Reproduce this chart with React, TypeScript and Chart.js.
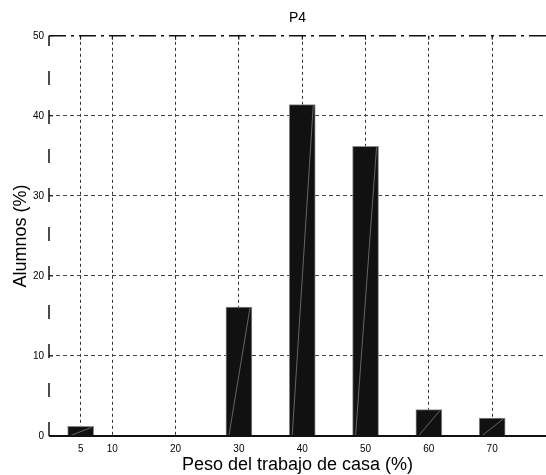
import React, { useEffect, useRef } from "react";
import { Chart, registerables } from "chart.js";

Chart.register(...registerables);

const CATEGORIES = [5, 10, 20, 30, 40, 50, 60, 70];
const VALUES = [1.2, 0, 0, 16.1, 41.4, 36.2, 3.3, 2.25];
const Y_TICKS = [0, 10, 20, 30, 40, 50];
const TITLE = "P4";
const X_TITLE = "Peso del trabajo de casa (%)";
const Y_TITLE = "Alumnos (%)";

const FONT = "'Liberation Sans', Arial, Helvetica, sans-serif";

const axesPlugin = {
  id: "matlabAxes",
  afterDatasetsDraw(chart: any) {
    const { ctx, chartArea } = chart;
    const { left, right, top, bottom } = chartArea;
    const meta = chart.getDatasetMeta(0);
    ctx.save();
    ctx.strokeStyle = "rgba(150,150,150,0.8)";
    ctx.lineWidth = 0.8;
    meta.data.forEach((bar: any) => {
      const p = bar.getProps(["x", "y", "base", "width"], true);
      if (Math.abs(p.base - p.y) < 1) return;
      const l = p.x - p.width / 2;
      const r = p.x + p.width / 2;
      ctx.beginPath();
      ctx.moveTo(l + 3, p.base);
      ctx.lineTo(r - 2, p.y + 1);
      ctx.stroke();
    });
    ctx.restore();

    ctx.save();
    ctx.strokeStyle = "#111";
    ctx.lineWidth = 1.5;
    ctx.setLineDash([14, 25]);
    ctx.beginPath();
    ctx.moveTo(left, bottom);
    ctx.lineTo(left, top);
    ctx.stroke();
    ctx.setLineDash([17, 5, 3, 5]);
    ctx.beginPath();
    ctx.moveTo(left, top);
    ctx.lineTo(right, top);
    ctx.stroke();
    ctx.setLineDash([]);
    ctx.lineWidth = 2;
    ctx.beginPath();
    ctx.moveTo(left, bottom);
    ctx.lineTo(right, bottom);
    ctx.stroke();
    ctx.lineWidth = 1;
    const ys = chart.scales.y;
    ys.ticks.forEach((t: any) => {
      const py = ys.getPixelForValue(t.value);
      ctx.beginPath();
      ctx.moveTo(left, py);
      ctx.lineTo(left + 4, py);
      ctx.stroke();
    });
    const xs = chart.scales.x;
    xs.ticks.forEach((t: any) => {
      const px = xs.getPixelForValue(t.value);
      ctx.beginPath();
      ctx.moveTo(px, top);
      ctx.lineTo(px, top + 4);
      ctx.stroke();
    });
    ctx.restore();
  },
};

export default function App() {
  const ref = useRef<HTMLCanvasElement>(null);

  useEffect(() => {
    if (!ref.current) return;
    Chart.defaults.font.family = FONT;
    const chart = new Chart(ref.current, {
      type: "bar",
      data: {
        datasets: [
          {
            data: CATEGORIES.map((c, i) => ({ x: c, y: VALUES[i] })),
            backgroundColor: "#111111",
            borderColor: "#8a8a8a",
            borderWidth: 1,
            barThickness: 26,
          },
        ],
      },
      options: {
        responsive: false,
        animation: false,
        layout: { padding: 0 },
        plugins: {
          legend: { display: false },
          tooltip: { enabled: false },
          title: {
            display: true,
            text: TITLE,
            fullSize: false,
            color: "#000",
            font: { size: 14, weight: "normal", family: FONT },
            padding: { top: 10, bottom: 9 },
          },
        },
        scales: {
          x: {
            type: "linear",
            min: 0,
            max: 78.5,
            offset: false,
            afterFit: (s: any) => {
              s.height = 39;
            },
            afterBuildTicks: (s: any) => {
              s.ticks = CATEGORIES.map((v) => ({ value: v }));
            },
            ticks: {
              autoSkip: false,
              maxRotation: 0,
              padding: 7,
              color: "#000",
              font: { size: 10, family: FONT },
            },
            grid: {
              offset: false,
              color: "#333",
              lineWidth: 1,
              drawTicks: false,
            },
            border: { display: false, dash: [3, 3] },
            title: {
              display: true,
              text: X_TITLE,
              color: "#000",
              font: { size: 18, family: FONT },
              padding: { top: 0, bottom: -1 },
            },
          },
          y: {
            min: 0,
            max: 50,
            afterFit: (s: any) => {
              s.width = 49;
            },
            afterBuildTicks: (s: any) => {
              s.ticks = Y_TICKS.map((v) => ({ value: v }));
            },
            ticks: {
              padding: 5,
              color: "#000",
              font: { size: 10, family: FONT },
            },
            grid: {
              color: (c: any) =>
                c.tick && (c.tick.value === 0 || c.tick.value === 50)
                  ? "rgba(0,0,0,0)"
                  : "#444",
              lineWidth: 1,
              drawTicks: false,
            },
            border: { display: false, dash: [4, 3] },
            title: {
              display: true,
              text: Y_TITLE,
              color: "#000",
              font: { size: 18, family: FONT },
              padding: { top: 10, bottom: 0 },
            },
          },
        },
      },
      plugins: [axesPlugin],
    } as any);
    return () => chart.destroy();
  }, []);

  return (
    <div style={{ position: "fixed", left: 0, top: 0, width: 546, height: 475, background: "#fff" }}>
      <canvas ref={ref} width={546} height={475} />
    </div>
  );
}
